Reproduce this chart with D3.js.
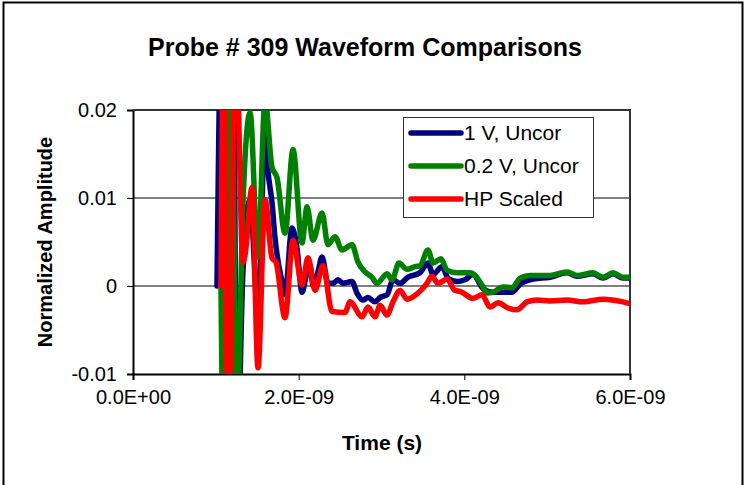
<!DOCTYPE html>
<html>
<head>
<meta charset="utf-8">
<script src="https://cdn.jsdelivr.net/npm/d3@7"></script>
<style>
  body { margin: 0; background: #fff; }
  svg text { font-family: "Liberation Sans", Arial, sans-serif; fill: #000; }
</style>
</head>
<body>
<svg width="746" height="485"></svg>
<script>
// Time in ns, amplitudes normalized
const blueTime = [1.014, 1.068, 1.111, 1.208, 1.256, 1.328, 1.413, 1.509, 1.594, 1.630, 1.678, 1.714, 1.799, 1.835, 1.919, 1.980, 2.040, 2.101, 2.137, 2.173, 2.233, 2.282, 2.354, 2.415, 2.475, 2.535, 2.644, 2.704, 2.777, 2.837, 2.922, 2.982, 3.067, 3.139, 3.224, 3.320, 3.465, 3.561, 3.622, 3.730, 3.803, 3.912, 4.008, 4.105, 4.226, 4.346, 4.576, 4.672, 4.829, 5.034, 5.240, 5.360, 5.554, 5.674, 5.795, 5.916, 6.000];
const blueAmp = [0, 0.03, -0.03, 0.03, -0.02, 0.0018, 0.0098, -0.0034, 0.0175, 0.0130, 0.0095, 0.0055, 0.0005, -0.0010, 0.0066, 0.0043, -0.0007, 0.0016, 0.0024, 0.0001, 0.0016, 0.0033, 0.0003, 0.0003, 0.0007, 0.0003, 0.0005, -0.0008, -0.0016, -0.0013, -0.0018, -0.0013, -0.0010, 0.0007, 0.0003, 0.0010, 0.0015, 0.0026, 0.0013, 0.0022, 0.0009, 0.0005, 0.0007, 0.0013, -0.0003, -0.0007, -0.0007, 0.0002, 0.0008, 0.0010, 0.0015, 0.0011, 0.0014, 0.0009, 0.0014, 0.0009, 0.0009];

const greenTime = [1.062, 1.111, 1.177, 1.256, 1.328, 1.413, 1.509, 1.594, 1.678, 1.739, 1.835, 1.932, 2.040, 2.101, 2.173, 2.282, 2.354, 2.439, 2.523, 2.644, 2.716, 2.801, 2.885, 2.946, 3.067, 3.127, 3.211, 3.308, 3.405, 3.465, 3.561, 3.622, 3.718, 3.791, 3.912, 4.069, 4.129, 4.226, 4.274, 4.346, 4.467, 4.576, 4.672, 4.793, 5.034, 5.240, 5.360, 5.554, 5.674, 5.795, 5.916, 6.000];
const greenAmp = [0, -0.03, 0.03, -0.015, 0.0095, 0.0197, 0.0033, 0.0211, 0.0135, 0.0123, 0.0060, 0.0155, 0.0049, 0.0090, 0.0052, 0.0083, 0.0047, 0.0056, 0.0041, 0.0047, 0.0027, 0.0016, 0.0010, 0.0003, 0.0014, 0.0007, 0.0026, 0.0019, 0.0022, 0.0023, 0.0041, 0.0026, 0.0031, 0.0018, 0.0015, 0.0015, 0.0012, -0.0001, -0.0008, -0.0007, -0.0001, -0.0002, 0.0009, 0.0012, 0.0012, 0.0016, 0.0012, 0.0015, 0.0010, 0.0015, 0.0010, 0.0010];

const redTime = [1.062, 1.099, 1.141, 1.238, 1.328, 1.352, 1.437, 1.509, 1.594, 1.678, 1.726, 1.835, 1.932, 2.040, 2.113, 2.197, 2.294, 2.403, 2.560, 2.620, 2.765, 2.837, 2.922, 2.982, 3.067, 3.139, 3.224, 3.308, 3.429, 3.549, 3.609, 3.682, 3.791, 3.887, 3.948, 4.105, 4.213, 4.310, 4.407, 4.527, 4.636, 4.757, 4.877, 5.034, 5.240, 5.433, 5.674, 5.916, 6.000];
const redAmp = [0, 0.03, -0.03, 0.03, 0.0027, 0.0035, 0.0112, -0.0093, 0.0098, 0.0032, 0.0027, -0.0036, 0.0052, 0.0001, 0.0032, -0.0005, 0.0023, -0.0029, -0.0030, -0.0018, -0.0035, -0.0024, -0.0035, -0.0022, -0.0033, -0.0018, -0.0005, -0.0015, -0.0009, 0.0003, 0.0011, 0.0003, 0.0008, -0.0005, -0.0006, -0.0014, -0.0010, -0.0024, -0.0019, -0.0025, -0.0027, -0.0018, -0.0016, -0.0017, -0.0016, -0.0018, -0.0015, -0.0018, -0.0020];

const seriesNames = ["1 V, Uncor", "0.2 V, Uncor", "HP Scaled"];
const seriesColors = ["#000080", "#008000", "#ff0000"];
const xTicks = [0, 2e-9, 4e-9, 6e-9];
const yTicks = [-0.01, 0, 0.01, 0.02];

const svg = d3.select("svg");
const plot = { left: 133, right: 630, top: 110, bottom: 374 };

// outer chart border
svg.append("rect")
  .attr("x", 3.5).attr("y", 2.5)
  .attr("width", 739).attr("height", 500)
  .attr("fill", "none")
  .attr("stroke", "#000")
  .attr("stroke-width", 2);

const x = d3.scaleLinear().domain([0, 6e-9]).range([plot.left, plot.right]);
const y = d3.scaleLinear().domain([-0.01, 0.02]).range([plot.bottom, plot.top]);

// title
svg.append("text")
  .attr("x", 365).attr("y", 56)
  .attr("text-anchor", "middle")
  .style("font-size", "25px").style("font-weight", "bold")
  .text("Probe # 309 Waveform Comparisons");

// gridlines
svg.append("g")
  .selectAll("line")
  .data(yTicks.filter(d => d > -0.01 && d < 0.02))
  .enter().append("line")
  .attr("x1", plot.left).attr("x2", plot.right)
  .attr("y1", d => y(d)).attr("y2", d => y(d))
  .attr("stroke", "#000").attr("stroke-width", 1);

// axes
const fmtX = d => d3.format(".1e")(d).toUpperCase().replace(/E([+-])(\d)$/, "E$10$2");
const fmtY = d => String(+d.toFixed(2));
const xAxis = svg.append("g")
  .attr("transform", `translate(0,${plot.bottom})`)
  .call(d3.axisBottom(x).tickValues(xTicks).tickSize(6).tickPadding(10).tickFormat(fmtX));
const yAxis = svg.append("g")
  .attr("transform", `translate(${plot.left},0)`)
  .call(d3.axisLeft(y).tickValues(yTicks).tickSize(6).tickPadding(10).tickFormat(fmtY));
[xAxis, yAxis].forEach(a => {
  a.select(".domain").attr("stroke", "#000").attr("stroke-width", 2);
  a.selectAll("text").style("font-size", "20px")
    .style("font-family", '"Liberation Sans", Arial, sans-serif').attr("fill", "#000");
  a.selectAll(".tick line").attr("stroke", "#000").attr("stroke-width", 1);
});

// plot frame top/right
svg.append("path")
  .attr("d", `M${plot.left},${plot.top}H${plot.right}V${plot.bottom}`)
  .attr("fill", "none").attr("stroke", "#333").attr("stroke-width", 2);

// axis titles
svg.append("text")
  .attr("x", 382).attr("y", 450)
  .attr("text-anchor", "middle")
  .style("font-size", "21px").style("font-weight", "bold")
  .text("Time (s)");
svg.append("text")
  .attr("transform", `translate(52,${(plot.top + plot.bottom) / 2}) rotate(-90)`)
  .attr("text-anchor", "middle")
  .style("font-size", "20px").style("font-weight", "bold")
  .text("Normalized Amplitude");

// clip lines to plot area
svg.append("defs").append("clipPath").attr("id", "plotClip")
  .append("rect")
  .attr("x", plot.left).attr("y", plot.top)
  .attr("width", plot.right - plot.left).attr("height", plot.bottom - plot.top);

const series = [
  blueTime.map((t, i) => [t * 1e-9, blueAmp[i]]),
  greenTime.map((t, i) => [t * 1e-9, greenAmp[i]]),
  redTime.map((t, i) => [t * 1e-9, redAmp[i]])
];

const line = d3.line()
  .x(d => x(d[0]))
  .y(d => y(d[1]))
  .curve(d3.curveMonotoneX);

svg.append("g").attr("clip-path", "url(#plotClip)")
  .selectAll("path")
  .data(series)
  .enter().append("path")
  .attr("d", line)
  .attr("fill", "none")
  .attr("stroke", (d, i) => seriesColors[i])
  .attr("stroke-width", 5.5)
  .attr("stroke-linejoin", "round")
  .attr("stroke-linecap", "round");

// legend
const legend = svg.append("g");
legend.append("rect")
  .attr("x", 403.5).attr("y", 117.5)
  .attr("width", 190).attr("height", 100)
  .attr("fill", "#fff").attr("stroke", "#333").attr("stroke-width", 1);
seriesNames.forEach((name, i) => {
  const ly = 133 + i * 33;
  legend.append("line")
    .attr("x1", 411).attr("x2", 461)
    .attr("y1", ly).attr("y2", ly)
    .attr("stroke", seriesColors[i]).attr("stroke-width", 5.5)
    .attr("stroke-linecap", "round");
  legend.append("text")
    .attr("x", 464).attr("y", ly + 7)
    .style("font-size", "21px")
    .text(name);
});
</script>
</body>
</html>
